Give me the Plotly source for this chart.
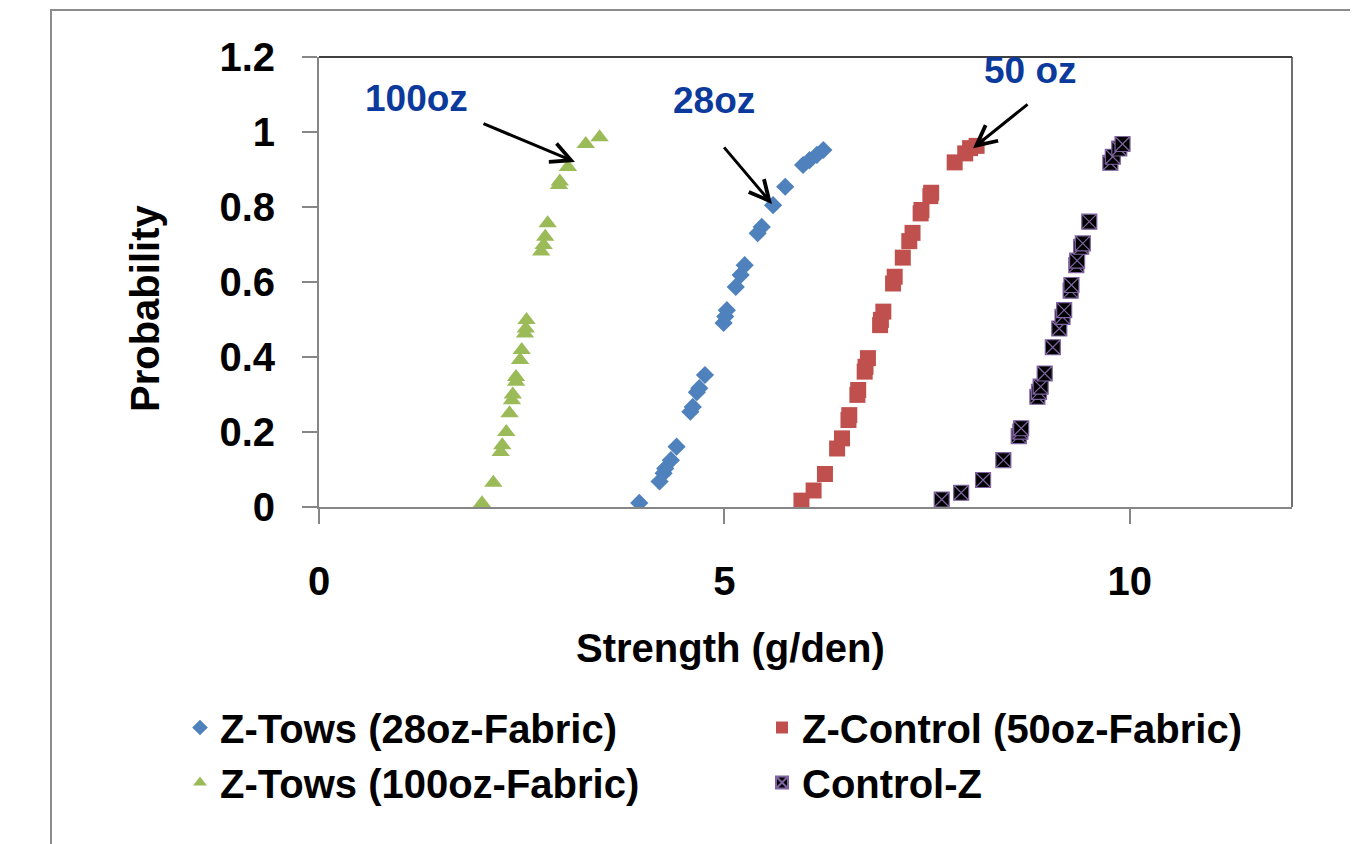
import plotly.graph_objects as go

# ---- data ----
tows28_x = [3.95, 4.20, 4.25, 4.27, 4.34, 4.41, 4.58, 4.61, 4.66, 4.69, 4.76, 4.99, 5.01, 5.03,
            5.14, 5.20, 5.25, 5.41, 5.46, 5.60, 5.75, 5.97, 6.05, 6.14, 6.22]
tows28_y = [0.011, 0.068, 0.090, 0.103, 0.125, 0.161, 0.254, 0.267, 0.306, 0.317, 0.352, 0.491,
            0.508, 0.525, 0.587, 0.619, 0.645, 0.730, 0.747, 0.805, 0.854, 0.912, 0.925, 0.939, 0.952]

ctrl50_x = [5.95, 6.10, 6.24, 6.39, 6.45, 6.53, 6.54, 6.64, 6.65, 6.73, 6.74, 6.77, 6.92, 6.93,
            6.96, 7.08, 7.10, 7.20, 7.28, 7.32, 7.42, 7.43, 7.54, 7.55, 7.84, 7.97, 8.03, 8.11]
ctrl50_y = [0.017, 0.044, 0.088, 0.156, 0.183, 0.232, 0.245, 0.299, 0.312, 0.361, 0.374, 0.397,
            0.485, 0.499, 0.521, 0.596, 0.614, 0.665, 0.709, 0.731, 0.783, 0.792, 0.829, 0.838,
            0.919, 0.943, 0.957, 0.963]

tows100_x = [2.01, 2.15, 2.24, 2.26, 2.31, 2.35, 2.38, 2.39, 2.43, 2.43, 2.48, 2.50, 2.54, 2.55,
             2.56, 2.74, 2.77, 2.79, 2.82, 2.96, 2.97, 3.07, 3.29, 3.46]
tows100_y = [0.010, 0.065, 0.147, 0.165, 0.200, 0.250, 0.285, 0.300, 0.334, 0.347, 0.392, 0.419,
             0.463, 0.476, 0.499, 0.681, 0.699, 0.721, 0.757, 0.859, 0.868, 0.907, 0.968, 0.986]

controlz_x = [7.68, 7.92, 8.19, 8.44, 8.63, 8.65, 8.66, 8.86, 8.88, 8.90, 8.95, 9.05, 9.13, 9.17,
              9.19, 9.27, 9.28, 9.34, 9.35, 9.40, 9.42, 9.50, 9.76, 9.79, 9.87, 9.91]
controlz_y = [0.020, 0.038, 0.072, 0.125, 0.189, 0.201, 0.210, 0.294, 0.307, 0.321, 0.356, 0.426,
              0.476, 0.507, 0.525, 0.577, 0.592, 0.645, 0.657, 0.694, 0.703, 0.761, 0.918, 0.934,
              0.956, 0.968]

series_names = ["Z-Tows (28oz-Fabric)", "Z-Control (50oz-Fabric)",
                "Z-Tows (100oz-Fabric)", "Control-Z"]
x_ticks = [0, 5, 10]
y_ticks = [0, 0.2, 0.4, 0.6, 0.8, 1.0, 1.2]
y_ticktext = ["0", "0.2", "0.4", "0.6", "0.8", "1", "1.2"]
x_title = "Strength (g/den)"
y_title = "Probability"

# label texts and arrow endpoints (tip, tail) in data units
labels = ["100oz", "28oz", "50 oz"]
label_pos = [(1.20, 1.090), (4.87, 1.085), (8.77, 1.165)]
arrow_tip = [(3.157, 0.920), (5.587, 0.808), (8.066, 0.957)]
arrow_tail = [(2.010, 1.024), (4.980, 0.963), (8.757, 1.077)]

FONT = "Liberation Sans, Arial, sans-serif"

# page offset introduced by the default body margin
O = 8
W, H = 1358 - O, 844 - O
L, T = 319 - O, 57 - O
R = W - (1292 - O)
B = H - (507 - O)
pw, ph = W - L - R, H - T - B


def pxx(p):  # page pixel x -> paper x
    return (p - O - L) / pw


def pxy(p):  # page pixel y -> paper y
    return (H - B - (p - O)) / ph


fig = go.Figure()
fig.add_trace(go.Scatter(x=tows28_x, y=tows28_y, mode="markers", name=series_names[0],
                         marker=dict(symbol="diamond", size=14, color="#4F81BD")))
fig.add_trace(go.Scatter(x=ctrl50_x, y=ctrl50_y, mode="markers", name=series_names[1],
                         marker=dict(symbol="square", size=16, color="#C0504D")))
fig.add_trace(go.Scatter(x=tows100_x, y=tows100_y, mode="markers", name=series_names[2],
                         marker=dict(symbol="triangle-up", size=16, color="#9BBB59")))
fig.add_trace(go.Scatter(x=controlz_x, y=controlz_y, mode="markers", name=series_names[3],
                         marker=dict(symbol="square-x", size=15, color="black",
                                     line=dict(color="#8064A2", width=1.2))))

annotations = []
for t, (lx, ly) in zip(labels, label_pos):
    annotations.append(dict(x=lx, y=ly, xref="x", yref="y", text=t, showarrow=False,
                            font=dict(family=FONT, size=37, color="#0B3A9C", weight="bold")))
for (tx, ty), (sx, sy) in zip(arrow_tip, arrow_tail):
    annotations.append(dict(x=tx, y=ty, ax=sx, ay=sy, xref="x", yref="y", axref="x", ayref="y",
                            text="", showarrow=True, arrowhead=5, arrowsize=1.3,
                            arrowwidth=3, arrowcolor="black", standoff=0, startstandoff=0))
# axis titles
annotations.append(dict(x=pxx(730), y=pxy(648), xref="paper", yref="paper", text=x_title,
                        showarrow=False, xanchor="center", yanchor="middle",
                        font=dict(family=FONT, size=40, color="black", weight="bold")))
annotations.append(dict(x=pxx(145), y=pxy(309), xref="paper", yref="paper", text=y_title,
                        showarrow=False, xanchor="center", yanchor="middle", textangle=-90,
                        font=dict(family=FONT, size=40, color="black", weight="bold")))

shapes = [
    dict(type="line", xref="paper", yref="paper", x0=0, x1=1, y0=1, y1=1,
         line=dict(color="black", width=1.5)),
    dict(type="line", xref="paper", yref="paper", x0=1, x1=1, y0=0, y1=1,
         line=dict(color="#404040", width=1.5)),
    dict(type="rect", xref="paper", yref="paper",
         x0=pxx(51), x1=pxx(1355), y0=pxy(870), y1=pxy(10),
         line=dict(color="#8C8C8C", width=2), layer="below"),
]

fig.update_layout(
    width=W, height=H, autosize=False,
    margin=dict(l=L, r=R, t=T, b=B, pad=0),
    paper_bgcolor="white", plot_bgcolor="white",
    font=dict(family=FONT, size=40, color="black", weight="bold"),
    showlegend=True,
    legend=dict(orientation="h", x=pxx(180), xanchor="left",
                y=pxy(695), yanchor="top",
                entrywidth=537, entrywidthmode="pixels",
                font=dict(family=FONT, size=40, color="black", weight="bold"),
                bgcolor="rgba(0,0,0,0)", itemsizing="constant"),
    annotations=annotations,
    shapes=shapes,
)
fig.update_xaxes(range=[0, 12], tickvals=x_ticks, ticktext=[str(v) for v in x_ticks],
                 showline=True, linecolor="#868686", linewidth=2,
                 ticks="outside", ticklen=15, tickcolor="#868686", tickwidth=2,
                 showgrid=False, zeroline=False, ticklabelstandoff=23)
fig.update_yaxes(range=[0, 1.2], tickvals=y_ticks, ticktext=y_ticktext,
                 showline=True, linecolor="#868686", linewidth=2,
                 ticks="outside", ticklen=15, tickcolor="#868686", tickwidth=2,
                 showgrid=False, zeroline=False, ticklabelstandoff=19)

fig.write_html("out.html")
